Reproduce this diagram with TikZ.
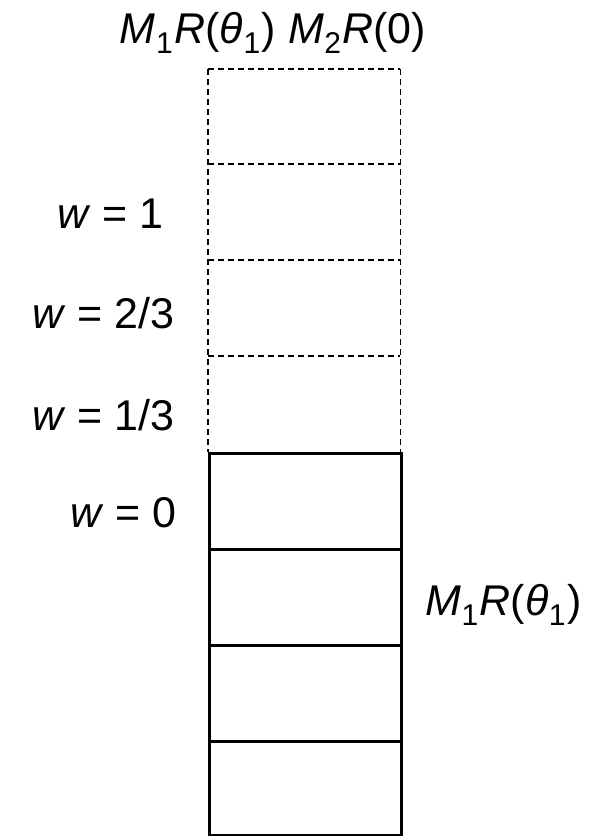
\documentclass[tikz,border=0pt]{standalone}
\usepackage{fontspec}
\setmainfont{Liberation Sans}
\newcommand{\sbs}[1]{\kern0.5pt\raisebox{-0.24em}{\fontsize{30}{32}\selectfont #1}\kern1.5pt}
\begin{document}
\begin{tikzpicture}[x=1pt,y=-1pt,
  cell/.style={minimum width=192pt,minimum height=96pt,inner sep=0pt,anchor=north west},
  dline/.style={dashed,dash pattern=on 6pt off 4pt,line width=1.3pt},
  sbox/.style={cell,draw,line width=3pt},
  lbl/.style={inner sep=0pt,font=\fontsize{43}{46}\selectfont}]
\useasboundingbox (0,0) rectangle (593,836);
\node[cell,minimum height=95pt] (d1) at (208,69) {};
\node[cell] (d2) at (208,164) {};
\node[cell] (d3) at (208,260) {};
\node[cell] (d4) at (208,356) {};
\draw[dline] (d1.north west) -- (d1.north east);
\draw[dline] (d2.north west) -- (d2.north east);
\draw[dline] (d3.north west) -- (d3.north east);
\draw[dline] (d4.north west) -- (d4.north east);
\draw[dline] (d1.north west) -- (d4.south west);
\draw[dline] (d1.north east) -- (d4.south east);
\node[sbox] (s1) at (208,452) {};
\node[sbox] (s2) at (208,548) {};
\node[sbox] (s3) at (208,644) {};
\node[sbox,minimum height=94pt] (s4) at (208,740) {};
\node[lbl,anchor=base] (top) at (273,43) {\textit{M}\sbs{1}\textit{R}(\textit{θ}\sbs{1}) \textit{M}\sbs{2}\textit{R}(0)};
\node[lbl,anchor=base west] (right) at (425,615) {\textit{M}\sbs{1}\textit{R}(\textit{θ}\sbs{1})};
\node[lbl,anchor=base east] (w1) at (164,228) {\textit{w} = 1};
\node[lbl,anchor=base east] (w23) at (175,328) {\textit{w} = 2/3};
\node[lbl,anchor=base east] (w13) at (175,430) {\textit{w} = 1/3};
\node[lbl,anchor=base east] (w0) at (177,527) {\textit{w} = 0};
\end{tikzpicture}
\end{document}
